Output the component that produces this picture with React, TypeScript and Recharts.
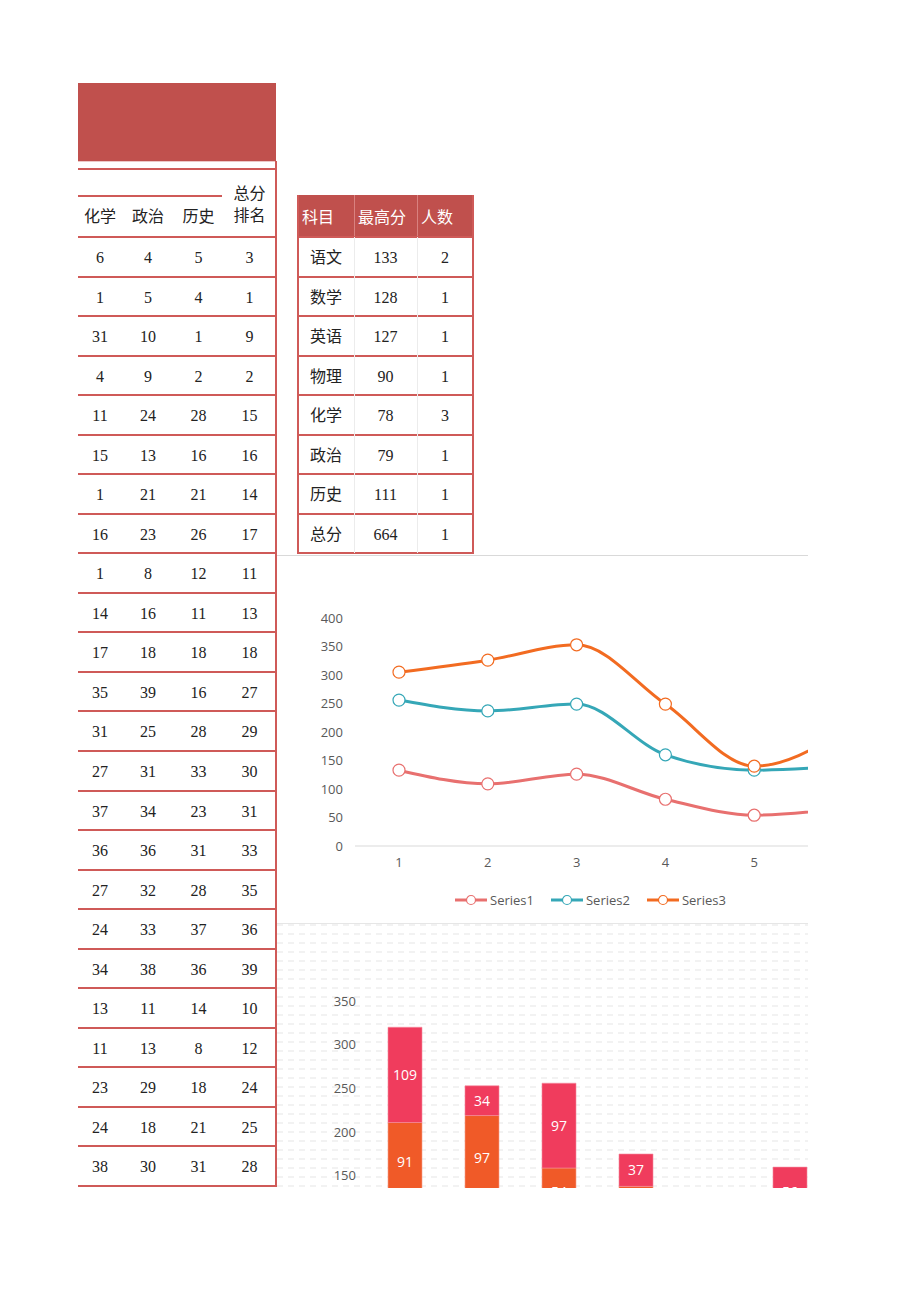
import { LineChart, Line, XAxis, YAxis, Legend, BarChart, Bar, LabelList } from 'recharts';

// left sheet: rank table
const rankHeaders = ['化学', '政治', '历史'];
const rankRows = [
  [6, 4, 5, 3],
  [1, 5, 4, 1],
  [31, 10, 1, 9],
  [4, 9, 2, 2],
  [11, 24, 28, 15],
  [15, 13, 16, 16],
  [1, 21, 21, 14],
  [16, 23, 26, 17],
  [1, 8, 12, 11],
  [14, 16, 11, 13],
  [17, 18, 18, 18],
  [35, 39, 16, 27],
  [31, 25, 28, 29],
  [27, 31, 33, 30],
  [37, 34, 23, 31],
  [36, 36, 31, 33],
  [27, 32, 28, 35],
  [24, 33, 37, 36],
  [34, 38, 36, 39],
  [13, 11, 14, 10],
  [11, 13, 8, 12],
  [23, 29, 18, 24],
  [24, 18, 21, 25],
  [38, 30, 31, 28],
];

// right sheet: top score table
const topHeaders = ['科目', '最高分', '人数'];
const subjects = ['语文', '数学', '英语', '物理', '化学', '政治', '历史', '总分'];
const topScores = [133, 128, 127, 90, 78, 79, 111, 664];
const topCounts = [2, 1, 1, 1, 3, 1, 1, 1];

// line chart
const lineCategories = ['1', '2', '3', '4', '5', '6'];
const series1 = [133, 109, 126, 82, 54, 66];
const series2 = [256, 237, 249, 160, 133, 140];
const series3 = [305, 326, 353, 249, 140, 200];
const lineTicks = [0, 50, 100, 150, 200, 250, 300, 350, 400];

// stacked bar chart (only the upper part is visible in the sheet)
const barCategories = ['1', '2', '3', '4', '5', '6'];
const barBase = [120, 122, 105, 108, 70, 60];
const barMiddle = [91, 97, 54, 30, 40, 44];
const barTop = [109, 34, 97, 37, 20, 56];
const barTicks = [150, 200, 250, 300, 350];

const RED = '#c0504d';
const LINE_RED = '#cf5a58';
const ROW_H = 39.54;

const lineSeries = [
  { key: 's1', name: 'Series1', color: '#e8706f' },
  { key: 's2', name: 'Series2', color: '#35a7b7' },
  { key: 's3', name: 'Series3', color: '#f26b21' },
];

const lineData = lineCategories.map((c, i) => ({ cat: c, s1: series1[i], s2: series2[i], s3: series3[i] }));
const barData = barCategories.map((c, i) => ({ cat: c, base: barBase[i], mid: barMiddle[i], top: barTop[i] }));

const serif = '"Liberation Serif", "Noto Sans CJK SC", serif';
const sans = '"Open Sans", "Noto Sans", sans-serif';

function hLine(left: number, top: number, width: number, color = LINE_RED, h = 2) {
  return <div style={{ position: 'absolute', left, top, width, height: h, background: color }} />;
}

function LineLegend() {
  return (
    <div style={{ display: 'flex', fontFamily: sans, fontSize: 13, color: '#595959' }}>
      {lineSeries.map((s) => (
        <div key={s.key} style={{ display: 'flex', alignItems: 'center', marginRight: 17 }}>
          <svg width={32} height={12}>
            <line x1={0} y1={6} x2={32} y2={6} stroke={s.color} strokeWidth={3} />
            <circle cx={16} cy={6} r={4.5} fill="#fff" stroke={s.color} strokeWidth={1.2} />
          </svg>
          <span style={{ marginLeft: 3 }}>{s.name}</span>
        </div>
      ))}
    </div>
  );
}

export default function App() {
  const rankCols = [
    { left: 78, width: 44 },
    { left: 122, width: 52 },
    { left: 174, width: 49 },
    { left: 223, width: 53 },
  ];
  const topCols = [
    { left: 298, width: 56 },
    { left: 354, width: 63 },
    { left: 417, width: 56 },
  ];
  const rankTop = 237;
  const topTop = 237;

  return (
    <div style={{ position: 'absolute', left: 0, top: 0, width: 920, height: 1301, background: '#fff', overflow: 'hidden' }}>
      {/* left table header */}
      <div style={{ position: 'absolute', left: 78, top: 83, width: 198, height: 78, background: RED }} />
      {hLine(78, 161, 198, '#ecc8c7', 1)}
      {hLine(78, 168, 198)}
      {hLine(78, 195, 144)}
      {rankHeaders.map((h, i) => (
        <div
          key={h}
          style={{
            position: 'absolute', left: rankCols[i].left, width: rankCols[i].width, top: 206, height: 22,
            textAlign: 'center', fontFamily: serif, fontSize: 16, color: '#222', lineHeight: '22px',
          }}
        >
          {h}
        </div>
      ))}
      <div
        style={{
          position: 'absolute', left: rankCols[3].left, width: rankCols[3].width, top: 183, textAlign: 'center',
          fontFamily: serif, fontSize: 16, color: '#222', lineHeight: '22px',
        }}
      >
        总分<br />排名
      </div>
      {rankRows.map((row, r) => (
        <div key={r}>
          {hLine(78, rankTop + r * ROW_H - 1, 198)}
          {row.map((v, c) => (
            <div
              key={c}
              style={{
                position: 'absolute', left: rankCols[c].left, width: rankCols[c].width, top: rankTop + r * ROW_H + 1,
                height: ROW_H, lineHeight: `${ROW_H}px`, textAlign: 'center', fontFamily: serif, fontSize: 16, color: '#222',
              }}
            >
              {v}
            </div>
          ))}
        </div>
      ))}
      {hLine(78, rankTop + rankRows.length * ROW_H - 1, 198)}
      <div style={{ position: 'absolute', left: 275, top: 161, width: 2, height: 1026, background: LINE_RED }} />

      {/* right table */}
      <div style={{ position: 'absolute', left: 298, top: 195, width: 175, height: 42, background: RED }} />
      {[354, 417].map((x) => (
        <div key={x} style={{ position: 'absolute', left: x, top: 195, width: 1, height: 42, background: '#d9817f' }} />
      ))}
      {topHeaders.map((h, i) => (
        <div
          key={h}
          style={{
            position: 'absolute', left: topCols[i].left + 4, top: 195, height: 42, lineHeight: '42px',
            fontFamily: '"Noto Sans CJK SC", sans-serif', fontSize: 16, color: '#fff',
          }}
        >
          {h}
        </div>
      ))}
      {subjects.map((s, r) => {
        const cells = [s, topScores[r], topCounts[r]];
        return (
          <div key={s}>
            {hLine(298, topTop + r * ROW_H - 1, 175)}
            {cells.map((v, c) => (
              <div
                key={c}
                style={{
                  position: 'absolute', left: topCols[c].left, width: topCols[c].width, top: topTop + r * ROW_H + 1,
                  height: ROW_H, lineHeight: `${ROW_H}px`, textAlign: 'center', fontFamily: serif, fontSize: 16, color: '#222',
                }}
              >
                {v}
              </div>
            ))}
          </div>
        );
      })}
      {hLine(298, topTop + subjects.length * ROW_H - 1, 175)}
      {[354, 417].map((x) => (
        <div key={x} style={{ position: 'absolute', left: x, top: 237, width: 1, height: 316, background: '#ececec' }} />
      ))}
      <div style={{ position: 'absolute', left: 297, top: 195, width: 2, height: 359, background: LINE_RED }} />
      <div style={{ position: 'absolute', left: 472, top: 195, width: 2, height: 359, background: LINE_RED }} />

      {/* line chart */}
      <div
        style={{
          position: 'absolute', left: 277, top: 555, width: 531, height: 368, overflow: 'hidden',
          borderTop: '1px solid #d9d9d9', fontFamily: sans,
        }}
      >
        <LineChart width={630} height={367} data={lineData} margin={{ top: 62, right: 20, left: 17, bottom: 47 }}>
          <XAxis
            dataKey="cat"
            padding={{ left: 44, right: 44 }}
            axisLine={{ stroke: '#d9d9d9' }}
            tickLine={false}
            tick={{ fill: '#595959', fontSize: 13 }}
            tickMargin={6}
          />
          <YAxis
            domain={[0, 400]}
            ticks={lineTicks}
            axisLine={false}
            tickLine={false}
            tick={{ fill: '#595959', fontSize: 13 }}
            tickMargin={6}
            width={61}
          />
          <Legend
            verticalAlign="middle"
            align="center"
            content={<LineLegend />}
            wrapperStyle={{ left: 178, top: 335, width: 340 }}
          />
          {lineSeries.map((s) => (
            <Line
              key={s.key}
              type="monotone"
              dataKey={s.key}
              name={s.name}
              stroke={s.color}
              strokeWidth={3}
              dot={{ r: 6, fill: '#fff', stroke: s.color, strokeWidth: 1.2 }}
              activeDot={false}
              isAnimationActive={false}
            />
          ))}
        </LineChart>
      </div>

      {/* stacked bar chart */}
      <div
        style={{
          position: 'absolute', left: 277, top: 923, width: 531, height: 264, overflow: 'hidden',
          borderTop: '1px solid #e6e6e6', fontFamily: sans,
          backgroundImage:
            'repeating-linear-gradient(180deg, transparent 0 2px, #fff 2px 9px), repeating-linear-gradient(90deg, #f2f2f2 0 6px, #fff 6px 11px)',
        }}
      >
        <BarChart width={560} height={420} data={barData} margin={{ top: 77, right: 9, left: 29, bottom: 7 }} barSize={34}>
          <XAxis dataKey="cat" axisLine={{ stroke: '#d9d9d9' }} tickLine={false} tick={false} />
          <YAxis
            domain={[0, 350]}
            ticks={barTicks}
            axisLine={false}
            tickLine={false}
            tick={{ fill: '#595959', fontSize: 13 }}
            tickMargin={4}
            width={60}
          />
          <Bar dataKey="base" stackId="a" fill="#f5a623" isAnimationActive={false} />
          <Bar dataKey="mid" stackId="a" fill="#f05a28" stroke="#f7a08a" strokeWidth={0.6} isAnimationActive={false}>
            <LabelList dataKey="mid" position="center" fill="#fff" fontSize={14} />
          </Bar>
          <Bar dataKey="top" stackId="a" fill="#f03c5d" stroke="#f58ba0" strokeWidth={0.6} isAnimationActive={false}>
            <LabelList dataKey="top" position="center" fill="#fff" fontSize={14} />
          </Bar>
        </BarChart>
      </div>
    </div>
  );
}
